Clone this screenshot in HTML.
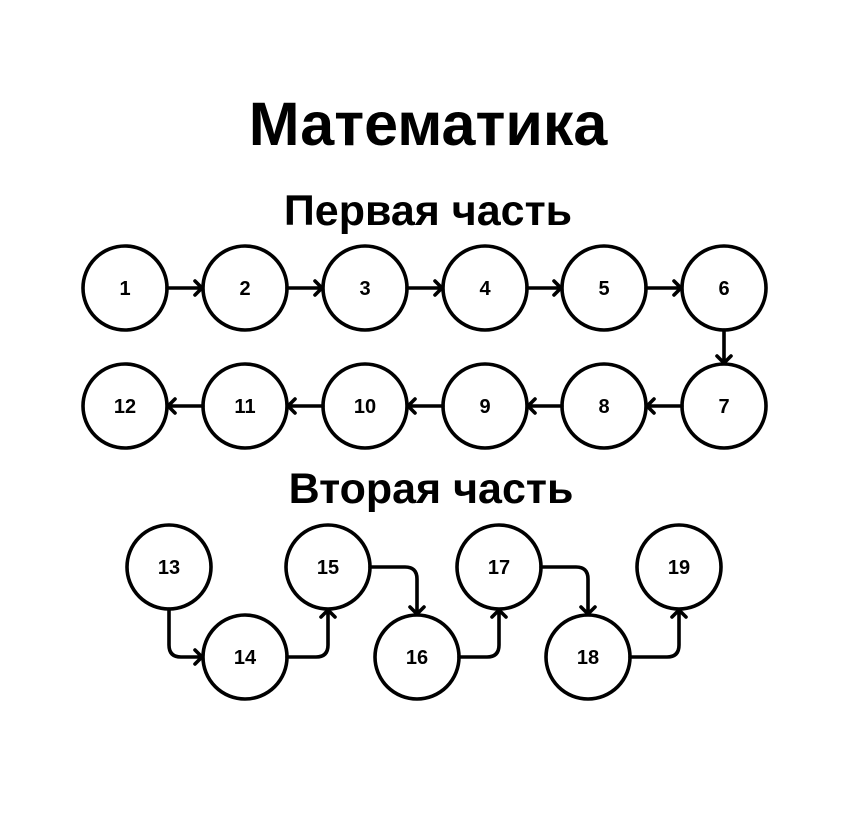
<!DOCTYPE html>
<html><head><meta charset="utf-8"><style>
html,body{margin:0;padding:0;background:#fff;}
svg{display:block;font-family:"Liberation Sans","DejaVu Sans",sans-serif;}
</style></head><body>
<svg id="d" width="866" height="817" viewBox="0 0 866 817">
<text x="428" y="145" text-anchor="middle" font-size="61" font-weight="bold">Математика</text>
<text x="428" y="225" text-anchor="middle" font-size="43" font-weight="bold">Первая часть</text>
<text x="431" y="503" text-anchor="middle" font-size="43" font-weight="bold">Вторая часть</text>
<g id="g" fill="none" stroke="#000" stroke-width="3.6" stroke-linecap="round" stroke-linejoin="round"></g>
</svg>
<script>
const labels=["1","2","3","4","5","6","7","8","9","10","11","12","13","14","15","16","17","18","19"];
const cx=[125,245,365,485,604,724,724,604,485,365,245,125,169,245,328,417,499,588,679];
const cy=[288,288,288,288,288,288,406,406,406,406,406,406,567,657,567,657,567,657,567];
const R=42;
const svg=document.getElementById('d'),g=document.getElementById('g');
const NS="http://www.w3.org/2000/svg";
function head(x,y,dir){
  const s=7;let d;
  if(dir=='r')d=`M${x-s},${y-s}L${x},${y}L${x-s},${y+s}`;
  if(dir=='l')d=`M${x+s},${y-s}L${x},${y}L${x+s},${y+s}`;
  if(dir=='d')d=`M${x-s},${y-s}L${x},${y}L${x+s},${y-s}`;
  if(dir=='u')d=`M${x-s},${y+s}L${x},${y}L${x+s},${y+s}`;
  return d;
}
function path(d,name){const p=document.createElementNS(NS,'path');p.setAttribute('d',d);


g.appendChild(p);}
for(let i=0;i<labels.length-1;i++){
  if(i==11)continue;
  const x1=cx[i],y1=cy[i],x2=cx[i+1],y2=cy[i+1];let d;
  if(i<12 && y1==y2){
    if(x2>x1)d=`M${x1+R},${y1}L${x2-R-1},${y2}`+head(x2-R-1,y2,'r');
    else d=`M${x1-R},${y1}L${x2+R+1},${y2}`+head(x2+R+1,y2,'l');
  }else if(i<12){d=`M${x1},${y1+R}L${x2},${y2-R-1}`+head(x2,y2-R-1,'d');}
  else if(i==12){d=`M${x1},${y1+R}L${x1},${y2-12}Q${x1},${y2} ${x1+12},${y2}L${x2-R-1},${y2}`+head(x2-R-1,y2,'r');}
  else if(y2<y1){d=`M${x1+R},${y1}L${x2-12},${y1}Q${x2},${y1} ${x2},${y1-12}L${x2},${y2+R+1}`+head(x2,y2+R+1,'u');}
  else {d=`M${x1+R},${y1}L${x2-12},${y1}Q${x2},${y1} ${x2},${y1+12}L${x2},${y2-R-1}`+head(x2,y2-R-1,'d');}
  path(d,'arrow-'+labels[i]+'-'+labels[i+1]);
}
for(let i=0;i<labels.length;i++){
  const c=document.createElementNS(NS,'circle');
  c.setAttribute('cx',cx[i]);c.setAttribute('cy',cy[i]);c.setAttribute('r',R);
  
  
  g.appendChild(c);
  const t=document.createElementNS(NS,'text');
  t.setAttribute('x',cx[i]);t.setAttribute('y',cy[i]+7);t.setAttribute('text-anchor','middle');
  t.setAttribute('font-size','20');t.setAttribute('font-weight','bold');
  t.textContent=labels[i];
  
  
  svg.appendChild(t);
}
</script>
</body></html>
